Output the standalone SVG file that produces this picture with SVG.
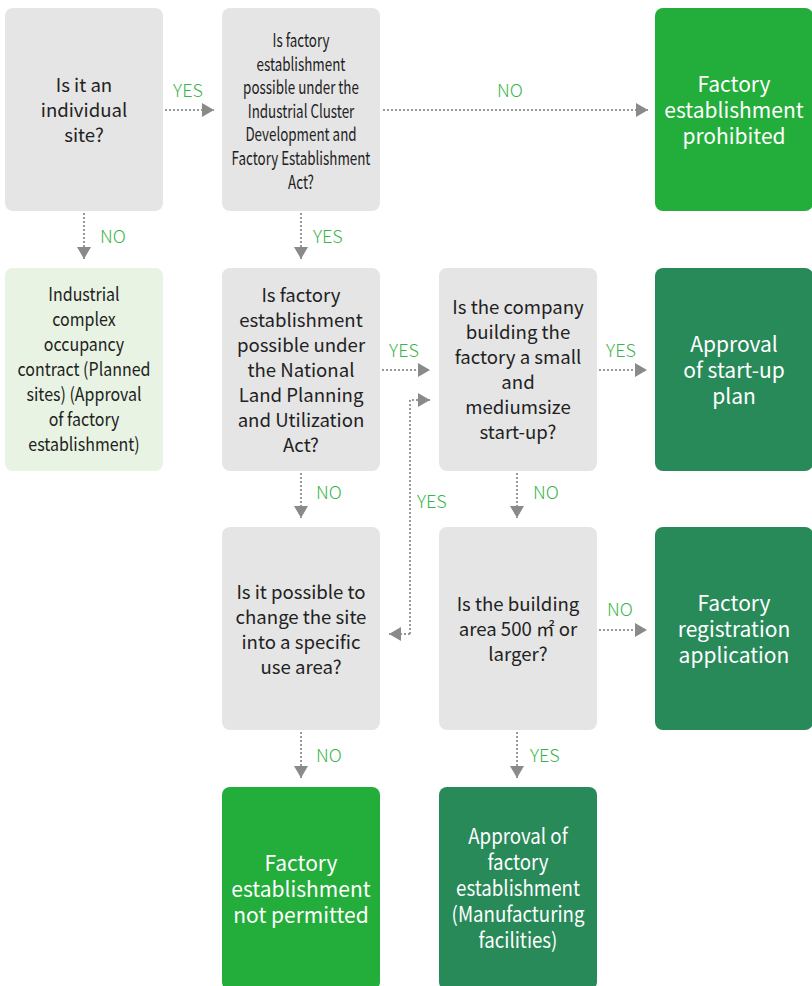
<svg xmlns="http://www.w3.org/2000/svg" width="812" height="986" viewBox="0 0 812 986">
<defs>
<style>
.gray{fill:#e5e5e5}
.lgreen{fill:#e8f3e3}
.bgreen{fill:#23ad3a}
.dgreen{fill:#288a59}
text{font-family:"Noto Sans CJK KR","Noto Sans",sans-serif;text-anchor:middle}
.t{font-size:18.6px;fill:#222;font-weight:400}
.w{font-size:21px;fill:#fff;font-weight:400}
.lbl{font-size:18px;fill:#3ab54a;font-weight:300}
.ls{text-anchor:start}
.c{fill:none;stroke:#999;stroke-width:2;stroke-dasharray:2 2}
</style>
<marker id="ah" markerUnits="userSpaceOnUse" markerWidth="14" markerHeight="14" viewBox="0 0 12 14" refX="12" refY="7" orient="auto">
<path d="M0,0 L12,7 L0,14 z" fill="#8a8a8a"/>
</marker>
</defs>
<rect width="812" height="986" fill="#fff"/>

<g id="connectors">
<path class="c" d="M165,110 H214" marker-end="url(#ah)"/>
<path class="c" d="M383,110 H648" marker-end="url(#ah)"/>
<path class="c" d="M84,213 V259" marker-end="url(#ah)"/>
<path class="c" d="M301,213 V259" marker-end="url(#ah)"/>
<path class="c" d="M382,370 H430" marker-end="url(#ah)"/>
<path class="c" d="M599,370 H647" marker-end="url(#ah)"/>
<path class="c" d="M410,634 V400 H430" marker-end="url(#ah)"/>
<path class="c" d="M410,634 H389" marker-end="url(#ah)"/>
<path class="c" d="M301,473 V518" marker-end="url(#ah)"/>
<path class="c" d="M517,473 V518" marker-end="url(#ah)"/>
<path class="c" d="M599,630 H647" marker-end="url(#ah)"/>
<path class="c" d="M301,732 V778" marker-end="url(#ah)"/>
<path class="c" d="M517,732 V778" marker-end="url(#ah)"/>
<text class="lbl" x="188" y="97">YES</text>
<text class="lbl" x="510" y="97">NO</text>
<text class="lbl ls" x="100" y="243">NO</text>
<text class="lbl ls" x="313" y="243">YES</text>
<text class="lbl" x="404" y="357">YES</text>
<text class="lbl" x="621" y="357">YES</text>
<text class="lbl ls" x="417" y="508">YES</text>
<text class="lbl ls" x="316" y="499">NO</text>
<text class="lbl ls" x="533" y="499">NO</text>
<text class="lbl" x="620" y="616">NO</text>
<text class="lbl ls" x="316" y="762">NO</text>
<text class="lbl ls" x="530" y="762">YES</text>
</g>

<g id="n-individual">
<rect class="gray" x="5" y="8" width="158" height="203" rx="8"/>
<text class="t"><tspan x="84" y="92">Is it an</tspan><tspan x="84" y="117">individual</tspan><tspan x="84" y="142">site?</tspan></text>
</g>

<g id="n-cluster-act">
<rect class="gray" x="222" y="8" width="158" height="203" rx="8"/>
<text class="t" transform="translate(301,0) scale(0.72,1)"><tspan x="0" y="47">Is factory</tspan><tspan x="0" y="70.6">establishment</tspan><tspan x="0" y="94.2">possible under the</tspan><tspan x="0" y="117.8">Industrial Cluster</tspan><tspan x="0" y="141.4">Development and</tspan><tspan x="0" y="165">Factory Establishment</tspan><tspan x="0" y="188.6">Act?</tspan></text>
</g>

<g id="n-prohibited">
<rect class="bgreen" x="655" y="8" width="158" height="203" rx="8"/>
<text class="w"><tspan x="734" y="92">Factory</tspan><tspan x="734" y="118">establishment</tspan><tspan x="734" y="144">prohibited</tspan></text>
</g>

<g id="n-complex">
<rect class="lgreen" x="5" y="268" width="158" height="203" rx="8"/>
<text class="t" transform="translate(84,0) scale(0.86,1)"><tspan x="0" y="301">Industrial</tspan><tspan x="0" y="326">complex</tspan><tspan x="0" y="351">occupancy</tspan><tspan x="0" y="376">contract (Planned</tspan><tspan x="0" y="401">sites) (Approval</tspan><tspan x="0" y="426">of factory</tspan><tspan x="0" y="451">establishment)</tspan></text>
</g>

<g id="n-land-act">
<rect class="gray" x="222" y="268" width="158" height="203" rx="8"/>
<text class="t"><tspan x="301" y="302">Is factory</tspan><tspan x="301" y="327">establishment</tspan><tspan x="301" y="352">possible under</tspan><tspan x="301" y="377">the National</tspan><tspan x="301" y="402">Land Planning</tspan><tspan x="301" y="427">and Utilization</tspan><tspan x="301" y="452">Act?</tspan></text>
</g>

<g id="n-startup">
<rect class="gray" x="439" y="268" width="158" height="203" rx="8"/>
<text class="t"><tspan x="518" y="314">Is the company</tspan><tspan x="518" y="339">building the</tspan><tspan x="518" y="364">factory a small</tspan><tspan x="518" y="389">and</tspan><tspan x="518" y="414">mediumsize</tspan><tspan x="518" y="439">start-up?</tspan></text>
</g>

<g id="n-startup-plan">
<rect class="dgreen" x="655" y="268" width="158" height="203" rx="8"/>
<text class="w"><tspan x="734" y="352">Approval</tspan><tspan x="734" y="378">of start-up</tspan><tspan x="734" y="404">plan</tspan></text>
</g>

<g id="n-change-site">
<rect class="gray" x="222" y="527" width="158" height="203" rx="8"/>
<text class="t"><tspan x="301" y="599">Is it possible to</tspan><tspan x="301" y="624">change the site</tspan><tspan x="301" y="649">into a specific</tspan><tspan x="301" y="674">use area?</tspan></text>
</g>

<g id="n-area">
<rect class="gray" x="439" y="527" width="158" height="203" rx="8"/>
<text class="t"><tspan x="518" y="611">Is the building</tspan><tspan x="518" y="636">area 500 ㎡ or</tspan><tspan x="518" y="661">larger?</tspan></text>
</g>

<g id="n-registration">
<rect class="dgreen" x="655" y="527" width="158" height="203" rx="8"/>
<text class="w"><tspan x="734" y="611">Factory</tspan><tspan x="734" y="637">registration</tspan><tspan x="734" y="663">application</tspan></text>
</g>

<g id="n-not-permitted">
<rect class="bgreen" x="222" y="787" width="158" height="203" rx="8"/>
<text class="w"><tspan x="301" y="871">Factory</tspan><tspan x="301" y="897">establishment</tspan><tspan x="301" y="923">not permitted</tspan></text>
</g>

<g id="n-approval">
<rect class="dgreen" x="439" y="787" width="158" height="203" rx="8"/>
<text class="w" transform="translate(518,0) scale(0.89,1)"><tspan x="0" y="844">Approval of</tspan><tspan x="0" y="870">factory</tspan><tspan x="0" y="896">establishment</tspan><tspan x="0" y="922">(Manufacturing</tspan><tspan x="0" y="948">facilities)</tspan></text>
</g>
</svg>
